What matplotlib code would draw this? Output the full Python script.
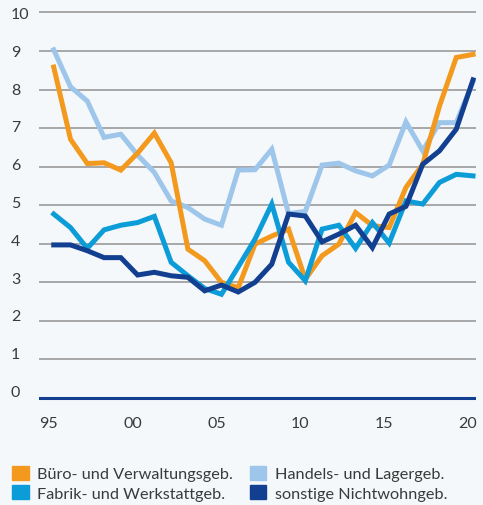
"""Baugenehmigungen Nichtwohngebäude: vier Reihen 1995-2020, Liniendiagramm."""
import matplotlib
matplotlib.use("Agg")
import matplotlib.pyplot as plt
from matplotlib.patches import Patch
from matplotlib.transforms import ScaledTranslation

YEARS = list(range(1995, 2021))

# Werte
BUERO = [8.58, 6.71, 6.08, 6.10, 5.91, 6.35, 6.87, 6.10, 3.86, 3.56, 3.00, 2.86, 3.99,
         4.20, 4.38, 3.08, 3.69, 3.99, 4.81, 4.47, 4.42, 5.46, 6.06, 7.57, 8.83, 8.91]
HANDEL = [9.03, 8.07, 7.70, 6.76, 6.84, 6.30, 5.85, 5.11, 4.94, 4.64, 4.48, 5.91, 5.92,
          6.45, 4.78, 4.84, 6.04, 6.09, 5.89, 5.76, 6.04, 7.16, 6.41, 7.14, 7.14, 8.20]
FABRIK = [4.77, 4.42, 3.88, 4.36, 4.48, 4.55, 4.71, 3.52, 3.17, 2.84, 2.69, 3.40, 4.12,
          5.03, 3.52, 3.04, 4.38, 4.48, 3.88, 4.55, 4.02, 5.11, 5.03, 5.59, 5.80, 5.76]
SONST = [3.97, 3.97, 3.82, 3.64, 3.64, 3.19, 3.26, 3.17, 3.13, 2.78, 2.93, 2.75, 3.00,
         3.47, 4.77, 4.72, 4.05, 4.25, 4.48, 3.90, 4.77, 4.97, 6.06, 6.41, 6.97, 8.25]

LABELS = ["Büro- und Verwaltungsgeb.", "Fabrik- und Werkstattgeb.",
          "Handels- und Lagergeb.", "sonstige Nichtwohngeb."]
X_TICKS = [1995, 2000, 2005, 2010, 2015, 2020]
X_TICKLABELS = ["95", "00", "05", "10", "15", "20"]
Y_TICKS = list(range(0, 11))

C_ORANGE = "#f39a1e"
C_LIGHT = "#9dc6ea"
C_MID = "#0c9cd8"
C_DARK = "#123f8f"
BG = "#f4f8fb"
TXT = "#3a3a3a"

plt.rcParams["font.family"] = ["Lato", "DejaVu Sans"]

fig = plt.figure(figsize=(4.83, 5.06), dpi=100, facecolor=BG)
ax = fig.add_axes([0.0807, 0.2, 0.9056, 0.785], facecolor=BG)

for y in Y_TICKS[1:]:
    ax.axhline(y, color="#9a9a9a", lw=1.2, zorder=1)
ax.axhline(0, color=C_DARK, lw=2.2, zorder=1)

lw = 3.6
ax.plot(YEARS, HANDEL, color=C_LIGHT, lw=lw, zorder=2, solid_joinstyle="miter")
ax.plot(YEARS, BUERO, color=C_ORANGE, lw=lw, zorder=3, solid_joinstyle="miter")
ax.plot(YEARS, FABRIK, color=C_MID, lw=lw, zorder=4, solid_joinstyle="miter")
ax.plot(YEARS, SONST, color=C_DARK, lw=lw, zorder=5, solid_joinstyle="miter")

ax.set_xlim(1994.12, 2020.2)
ax.set_ylim(-0.15, 10.15)
for s in ax.spines.values():
    s.set_visible(False)

# Beschriftungen leicht links vom Datenpunkt, wie im Original
ax.set_xticks([x - 0.3 for x in X_TICKS])
ax.set_xticklabels(X_TICKLABELS)
ax.set_yticks(Y_TICKS)
ax.set_yticklabels([str(v) for v in Y_TICKS], ha="left")
ax.tick_params(axis="both", length=0, labelsize=11.5, colors=TXT)
ax.tick_params(axis="y", pad=20.2)
ax.tick_params(axis="x", pad=9)

# untere y-Beschriftungen sitzen im Original etwas über der Linie
for v, lab in zip(Y_TICKS, ax.get_yticklabels()):
    off = (10 - v) * 0.0075
    lab.set_transform(lab.get_transform() + ScaledTranslation(0, off, fig.dpi_scale_trans))

handles = [Patch(color=C_ORANGE), Patch(color=C_MID),
           Patch(color=C_LIGHT), Patch(color=C_DARK)]
fig.legend(handles, LABELS, ncol=2, loc="lower left", bbox_to_anchor=(0.012, -0.004),
           frameon=False, fontsize=11.7, labelcolor=TXT, handlelength=1.0,
           handleheight=1.0, handletextpad=0.55, columnspacing=1.0, labelspacing=0.2,
           borderaxespad=0)

fig.savefig("out.png", dpi=100, facecolor=BG)
